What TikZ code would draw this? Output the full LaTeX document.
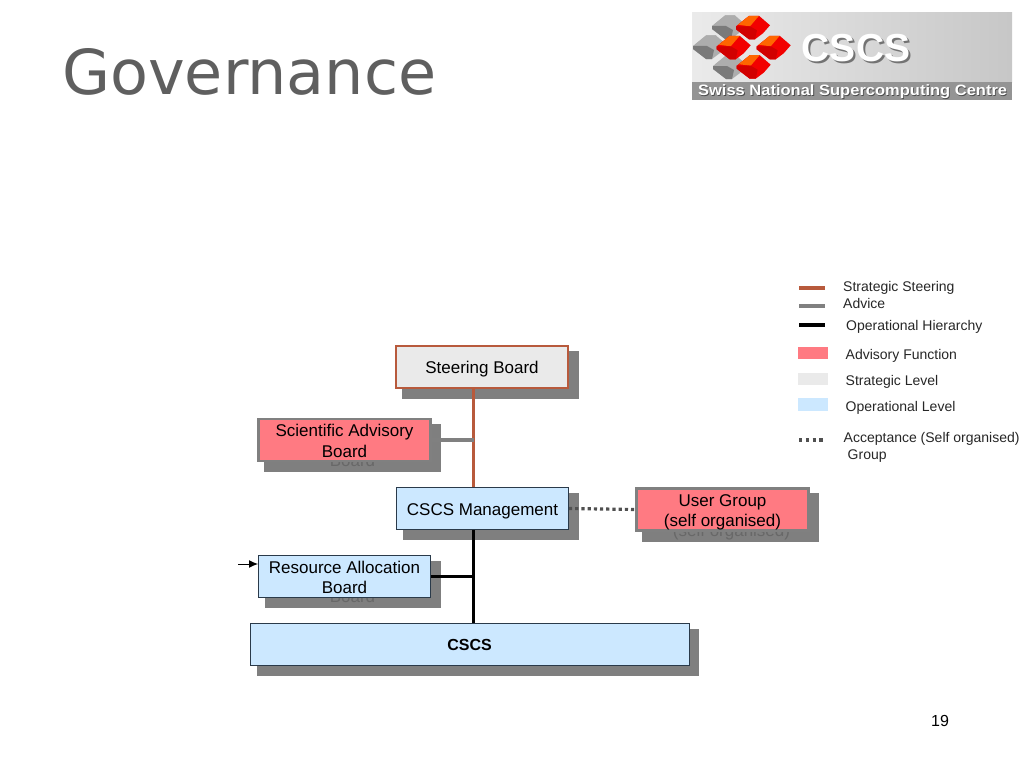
\documentclass[tikz,border=0pt]{standalone}
\usepackage{fontspec}
\setmainfont{Liberation Sans}
\newfontfamily\titlefont{DejaVu Sans}
\usetikzlibrary{backgrounds,arrows.meta,calc}
\definecolor{pinkfill}{HTML}{FF7A82}
\definecolor{bluefill}{HTML}{CCE8FF}
\definecolor{greyfill}{HTML}{EAEAEA}
\definecolor{steerline}{HTML}{B85A3C}
\definecolor{adviceline}{HTML}{808080}
\definecolor{shadowgrey}{HTML}{7F7F7F}
\definecolor{ghosttext}{HTML}{686868}
\definecolor{darkedge}{HTML}{2A3A4A}
\definecolor{titlegrey}{HTML}{5F5F5F}
\definecolor{dotgrey}{HTML}{505050}
\tikzset{
  boxbase/.style={minimum width=#1, minimum height=42pt, inner sep=0pt, align=center, font=\fontsize{17}{20.5}\selectfont, text=black},
  boxbase/.default=172pt,
  pinkbox/.style={boxbase, fill=pinkfill, draw=adviceline, line width=2.2pt},
  bluebox/.style={boxbase, fill=bluefill, draw=darkedge, line width=1pt},
  steerbox/.style={boxbase, fill=greyfill, draw=steerline, line width=2.4pt},
  legendtext/.style={anchor=base west, inner sep=0pt, font=\fontsize{14}{16}\selectfont, text=black!85},
  ghostlabel/.style={anchor=center, inner sep=0pt, align=center, text=ghosttext, font=\fontsize{17}{20.5}\selectfont},
  steerlink/.style={steerline, line width=3.4pt},
  advicelink/.style={adviceline, line width=3.4pt},
  oplink/.style={black, line width=3.4pt},
  acceptlink/.style={dotgrey, line width=3.2pt, dash pattern=on 3.2pt off 3pt},
  legendline/.style={line width=3.2pt},
  logotext/.style={inner sep=0pt, anchor=base},
}
\newcommand{\boxshadow}[1]{%
  \fill[shadowgrey] ([shift={(7,6)}]#1.north west) rectangle ([shift={(9.5,10)}]#1.south east);}
\newcommand{\logocube}[5]{%
  \begin{scope}[shift={(#1,#2)}]
  \fill[#3] (-17,-1) -- (-4,-11.5) -- (6,-11.5) -- (17,-2) -- (10,6) -- (2,12) -- (-4,12) -- (-17,2) -- cycle;
  \fill[#4] (-15,-2.5) -- (-4,-11.5) -- (6,-11.5) -- (-3,-1) -- cycle;
  \fill[#5] (-17,-1) -- (-3,-1) -- (4,3) -- (2,12) -- (-4,12) -- (-17,2) -- cycle;
  \end{scope}}
\begin{document}
\begin{tikzpicture}[x=1pt,y=-1pt]
\useasboundingbox (0,0) rectangle (1024,768);
% title and page number
\node[anchor=base west, inner sep=0pt, text=titlegrey, font=\titlefont\fontsize{62}{62}\selectfont] (title) at (62,94) {Governance};
\node[anchor=base, inner sep=0pt, font=\fontsize{16}{18}\selectfont] (pageno) at (940,726) {19};
% logo
\shade[left color=white!92!black, right color=white!78!black] (692,13) rectangle (1012,82);
\fill[black!42] (692,82) rectangle (1012,100);
\logocube{729}{27}{black!32}{black!32}{black!52}
\logocube{710}{47}{black!32}{black!32}{black!52}
\logocube{730}{67}{black!32}{black!32}{black!52}
\logocube{753}{27.3}{red!95!black}{orange!80!red}{red!82!black}
\logocube{733.7}{47.3}{red!95!black}{orange!80!red}{red!82!black}
\logocube{773.7}{47.3}{red!95!black}{orange!80!red}{red!82!black}
\logocube{753.7}{66.7}{red!95!black}{orange!80!red}{red!82!black}
\node[logotext, text=black!55, font=\bfseries\fontsize{39}{39}\selectfont] (logoshade) at (858,63.5) {CSCS};
\node[logotext, text=white, font=\bfseries\fontsize{39}{39}\selectfont] (logoname) at (856,62) {CSCS};
\node[logotext, text=black!70, xscale=1.1, font=\bfseries\fontsize{15}{16}\selectfont] (logosubshade) at (853.4,96.4) {Swiss National Supercomputing Centre};
\node[logotext, text=white, xscale=1.1, font=\bfseries\fontsize{15}{16}\selectfont] (logosub) at (852.6,95.7) {Swiss National Supercomputing Centre};
% boxes
\node[steerbox] (steer) at (482,367) {\rule{0pt}{16pt}Steering Board};
\node[pinkbox] (sab) at (344.5,440) {\rule{0pt}{14pt}Scientific Advisory\\Board};
\node[bluebox] (mgmt) at (482.5,508.5) {\rule{0pt}{17pt}CSCS Management};
\node[pinkbox] (ug) at (722.5,509.5) {\rule{0pt}{17.5pt}User Group\\(self organised)};
\node[bluebox] (rab) at (344.5,576.5) {\rule{0pt}{14pt}Resource Allocation\\Board};
\node[bluebox, minimum width=439pt, font=\bfseries\fontsize{16}{20}\selectfont] (cscs) at (469.5,644.5) {CSCS};
% shadows and the text blurred inside them
\begin{scope}[on background layer]
  \boxshadow{steer}
  \boxshadow{sab}
  \boxshadow{mgmt}
  \boxshadow{ug}
  \boxshadow{rab}
  \boxshadow{cscs}
  \node[ghostlabel] (sabghost) at ($(sab.center)+(8,10)$) {Scientific Advisory\\Board};
  \node[ghostlabel] (ugghost) at ($(ug.center)+(9,13)$) {User Group\\(self organised)};
  \node[ghostlabel] (rabghost) at ($(rab.center)+(8,10)$) {Resource Allocation\\Board};
\end{scope}
% connectors
\coordinate (spine) at (473.5,0);
\coordinate (arrowfoot) at (238,564);
\draw[steerlink] (steer.south -| spine) -- (mgmt.north -| spine);
\draw[advicelink] (sab.east) -- (sab.east -| spine);
\draw[oplink] (mgmt.south -| spine) -- (cscs.north -| spine);
\draw[oplink] (rab.east) -- (rab.east -| spine);
\draw[acceptlink] (mgmt.east) -- (ug.west);
\draw[-{Latex[length=9pt,width=8pt]}, line width=1pt] (arrowfoot) -- (arrowfoot -| rab.west);
% legend
\coordinate (la) at (799,288); \coordinate (lb) at (825,288);
\draw[legendline, steerline] (la) -- (lb);
\coordinate (lc) at (799,306); \coordinate (ld) at (825,306);
\draw[legendline, adviceline] (lc) -- (ld);
\coordinate (le) at (799,325); \coordinate (lf) at (825,325);
\draw[legendline, black] (le) -- (lf);
\coordinate (lg) at (799,440); \coordinate (lh) at (823,440);
\draw[legendline, dotgrey, dash pattern=on 3.4pt off 3.4pt] (lg) -- (lh);
\fill[pinkfill] (798,347) rectangle (828,359);
\fill[greyfill] (798,373) rectangle (828,385);
\fill[bluefill] (798,398) rectangle (828,411);
\node[legendtext] (t1) at (843,291) {Strategic Steering};
\node[legendtext] (t2) at (843,308) {Advice};
\node[legendtext] (t3) at (846,330) {Operational Hierarchy};
\node[legendtext] (t4) at (845.5,359) {Advisory Function};
\node[legendtext] (t5) at (845.5,385) {Strategic Level};
\node[legendtext] (t6) at (845.5,411) {Operational Level};
\node[legendtext] (t7) at (843.5,442) {Acceptance (Self organised)};
\node[legendtext] (t8) at (847.5,459) {Group};
\end{tikzpicture}
\end{document}
